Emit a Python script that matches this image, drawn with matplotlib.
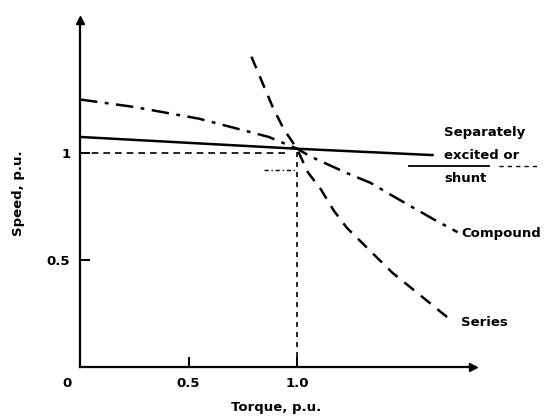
import matplotlib.pyplot as plt

# speed-torque curves, per unit
shunt_torque = [0.0, 1.0, 1.63]
shunt_speed = [1.075, 1.02, 0.99]

compound_torque = [0.0, 0.25, 0.55, 0.87, 1.0, 1.07, 1.23, 1.34, 1.44, 1.63, 1.74]
compound_speed = [1.25, 1.215, 1.16, 1.075, 1.02, 0.98, 0.906, 0.86, 0.80, 0.69, 0.63]

series_torque = [0.79, 0.89, 0.94, 1.0, 1.05, 1.11, 1.17, 1.23, 1.30, 1.38, 1.44,
                 1.55, 1.72]
series_speed = [1.45, 1.21, 1.11, 1.02, 0.91, 0.83, 0.73, 0.65, 0.58, 0.50, 0.44,
                0.35, 0.21]

rated_torque = 1.0
rated_speed = 1.0

xtick_vals = [0.5, 1.0]
xtick_labels = ["0.5", "1.0"]
ytick_vals = [0.5, 1.0]
ytick_labels = ["0.5", "1"]

font = dict(family="DejaVu Sans", fontsize=9.5, weight="bold")

fig = plt.figure(figsize=(5.52, 4.2), dpi=100)
ax = fig.add_axes([80 / 552, 53 / 420, 393 / 552, 347 / 420])
ax.set_xlim(0, 393 / 217)
ax.set_ylim(0, 347 / 214)

# curves
ax.plot(shunt_torque, shunt_speed, color="black", lw=1.8, solid_capstyle="butt")
ax.plot(compound_torque, compound_speed, color="black", lw=1.8,
        dashes=(7, 3, 1.5, 3))
ax.plot(series_torque, series_speed, color="black", lw=1.8, dashes=(5, 3.5))

# rated point guides
ax.plot([0, rated_torque - 0.03], [rated_speed, rated_speed], color="black",
        lw=1.2, dashes=(4, 3))
ax.plot([rated_torque, rated_torque], [0, rated_speed + 0.01], color="black",
        lw=1.2, dashes=(3, 3))
ax.plot([0.85, 0.99], [0.92, 0.92], color="black", lw=1.0, dashes=(3, 2, 1, 2))

# underline under the shunt label
ax.plot([1.516, 1.885], [0.94, 0.94], color="black", lw=1.3, clip_on=False)
ax.plot([1.93, 2.12], [0.94, 0.94], color="black", lw=1.0, dashes=(3, 3),
        clip_on=False)

# axes with arrows
for side in ["top", "right"]:
    ax.spines[side].set_visible(False)
ax.spines["left"].set_linewidth(1.6)
ax.spines["bottom"].set_linewidth(1.6)
ax.plot([1], [0], marker=">", color="black", ms=6, transform=ax.transAxes,
        clip_on=False)
ax.plot([0], [1], marker="^", color="black", ms=6, transform=ax.transAxes,
        clip_on=False)

ax.set_xticks(xtick_vals, xtick_labels, **font)
ax.set_yticks(ytick_vals, ytick_labels, **font)
ax.tick_params(axis="both", direction="in", length=7, width=1.4, pad=7)
ax.text(-0.06, -0.075, "0", ha="center", va="center", **font)

ax.set_xlabel("Torque, p.u.", labelpad=8, **font)
ax.set_ylabel("Speed, p.u.", labelpad=16, **font)

# curve labels
ax.text(1.677, 1.098, "Separately", ha="left", va="center", **font)
ax.text(1.677, 0.99, "excited or", ha="left", va="center", **font)
ax.text(1.677, 0.883, "shunt", ha="left", va="center", **font)
ax.text(1.756, 0.626, "Compound", ha="left", va="center", **font)
ax.text(1.756, 0.21, "Series", ha="left", va="center", **font)

fig.savefig("out.png", dpi=100, facecolor="white")
